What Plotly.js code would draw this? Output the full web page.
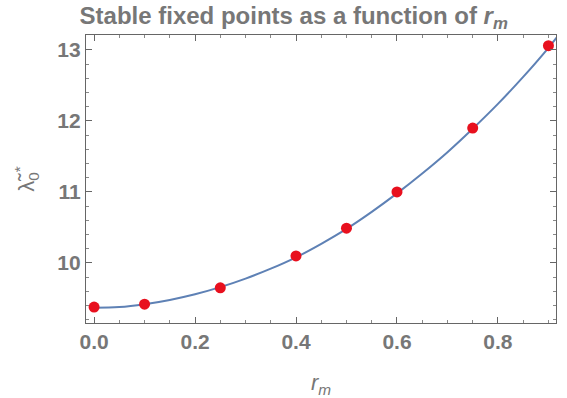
<!DOCTYPE html>
<html><head><meta charset="utf-8">
<script src="https://cdn.plot.ly/plotly-3.0.1.min.js"></script>
<style>html,body{margin:0;padding:0;background:#fff}</style>
</head><body>
<div id="chart" style="width:567px;height:398px"></div>
<script>
// Data points (red markers)
const rmPoints = [0.0, 0.1, 0.25, 0.4, 0.5, 0.6, 0.75, 0.9];
const lambdaPoints = [9.38, 9.42, 9.65, 10.1, 10.49, 11.0, 11.9, 13.06];
// Fitted curve (blue line)
const rmCurve = [0.0, 0.05, 0.1, 0.15, 0.2, 0.25, 0.3, 0.35, 0.4, 0.45, 0.5, 0.55, 0.6, 0.65, 0.7, 0.75, 0.8, 0.85, 0.9, 0.93];
const lambdaCurve = [9.37, 9.38, 9.42, 9.48, 9.56, 9.66, 9.78, 9.92, 10.08, 10.27, 10.48, 10.72, 10.98, 11.26, 11.56, 11.89, 12.24, 12.62, 13.03, 13.3];
const xTicks = [0.0, 0.2, 0.4, 0.6, 0.8];
const xTickText = ['0.0', '0.2', '0.4', '0.6', '0.8'];
const yTicks = [10, 11, 12, 13];
const yTickText = ['10', '11', '12', '13'];

const gray = '#777777';
const fam = 'Liberation Sans, Arial, sans-serif';
const tickFont = {family: fam, size: 21, color: gray, weight: 'bold'};
const xRange = [-0.016, 0.915];
const yRange = [9.155, 13.21];

const traces = [
  {x: rmCurve, y: lambdaCurve, mode: 'lines', type: 'scatter',
   line: {color: '#5E81B5', width: 2, shape: 'spline'}, hoverinfo: 'skip'},
  {x: rmPoints, y: lambdaPoints, mode: 'markers', type: 'scatter',
   marker: {color: '#E8101E', size: 11}},
  // invisible trace to anchor the frame axes on top/right
  {x: [rmPoints[0]], y: [lambdaPoints[0]], xaxis: 'x2', yaxis: 'y2', mode: 'markers',
   marker: {opacity: 0}, hoverinfo: 'skip'}
];

const axisCommon = {
  showline: true, linecolor: '#666', linewidth: 1.2,
  ticks: 'inside', ticklen: 6, tickcolor: '#666', tickwidth: 1,
  showgrid: false, zeroline: false, tickfont: tickFont
};
const xMinor = {dtick: 0.05, tick0: 0, ticks: 'inside', ticklen: 3, tickcolor: '#888'};
const yMinor = {dtick: 0.2, tick0: 0, ticks: 'inside', ticklen: 3, tickcolor: '#888'};

const layout = {
  width: 567, height: 398,
  margin: {l: 86, r: 11, t: 35, b: 75},
  paper_bgcolor: '#fff', plot_bgcolor: '#fff',
  showlegend: false,
  title: {text: 'Stable fixed points as a function of <i>r</i><sub><i>m</i></sub>',
          font: {family: fam, size: 24, color: gray, weight: 'bold'},
          x: 0.518, xref: 'container', xanchor: 'center', y: 0.962, yref: 'container', yanchor: 'middle'},
  xaxis: Object.assign({}, axisCommon, {
    range: xRange, tickvals: xTicks, ticktext: xTickText, minor: xMinor,
    title: {text: '<i>r</i><sub><i>m</i></sub>', standoff: 22,
            font: {family: fam, size: 22, color: gray}}
  }),
  yaxis: Object.assign({}, axisCommon, {
    range: yRange, tickvals: yTicks, ticktext: yTickText, minor: yMinor,
    title: {text: 'λ̃<sub>0</sub><sup>*</sup>', standoff: 16,
            font: {family: fam, size: 22, color: gray}}
  }),
  xaxis2: Object.assign({}, axisCommon, {
    overlaying: 'x', side: 'top', anchor: 'y2', range: xRange, tickvals: xTicks,
    showticklabels: false, minor: xMinor
  }),
  yaxis2: Object.assign({}, axisCommon, {
    overlaying: 'y', side: 'right', anchor: 'x2', range: yRange, tickvals: yTicks,
    showticklabels: false, minor: yMinor
  })
};

Plotly.newPlot('chart', traces, layout, {displayModeBar: false, staticPlot: true});
</script>
</body></html>
